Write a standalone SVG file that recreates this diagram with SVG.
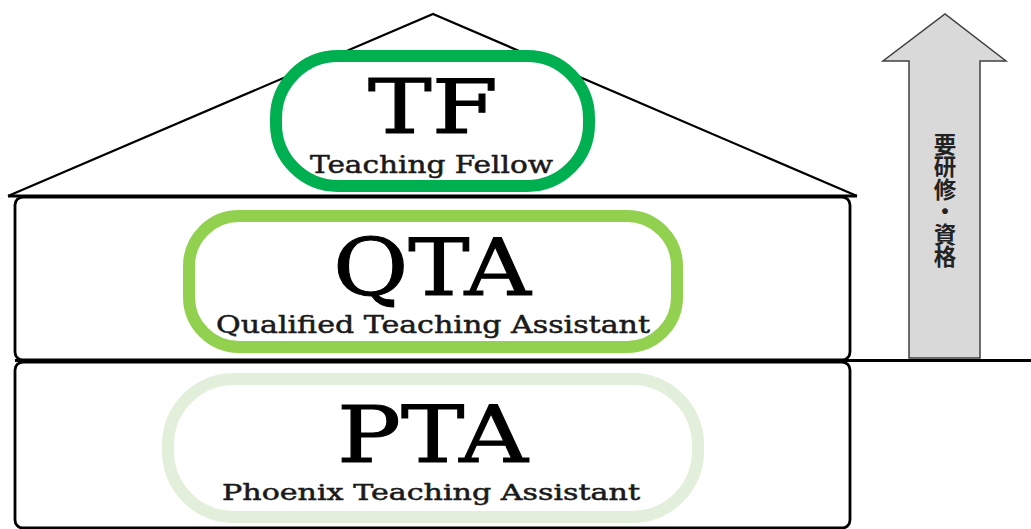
<svg xmlns="http://www.w3.org/2000/svg" width="1031" height="529" viewBox="0 0 1031 529">
<style>
.line{fill:none;stroke:#000;stroke-width:2.8;stroke-linejoin:round}
.roof{fill:none;stroke:#000;stroke-width:2.2;stroke-linejoin:miter}
.pill{fill:#fff;stroke-width:12}
.big{font-family:"DejaVu Serif","Liberation Serif",serif;fill:#000;stroke:#000;stroke-width:1}
.sub{font-family:"DejaVu Serif","Liberation Serif",serif;fill:#1a1a1a;stroke:#1a1a1a;stroke-width:0.5}
.jp{font-family:"Noto Sans CJK JP","Noto Sans CJK SC",sans-serif;font-weight:bold;fill:#222;font-size:22.5px}
</style>
<rect width="1031" height="529" fill="#fff"/>
<g id="house">
  <polyline class="roof" points="8,196 433,14 857,196"/>
  <rect class="line" x="15" y="197" width="835" height="163" rx="8"/>
  <rect class="line" x="15" y="362" width="835" height="166" rx="8"/>
  <line class="line" x1="8" y1="196" x2="857" y2="196"/>
</g>
<g id="connectors">
  <line class="line" x1="15" y1="360.5" x2="1031" y2="360.5"/>
</g>
<g id="arrow">
  <polygon points="909,358 909,61 883,61 945,14 1006,61 980,61 980,358" fill="#d9d9d9" stroke="#404040" stroke-width="1.5"/>
  <text class="jp" x="945" y="133" writing-mode="vertical-rl" text-anchor="start">要研修・資格</text>
</g>
<g id="tf">
  <rect class="pill" x="276" y="56" width="313" height="130" rx="62" stroke="#00b050"/>
  <text class="big" x="368" y="133" font-size="75" textLength="130" lengthAdjust="spacingAndGlyphs">TF</text>
  <text class="sub" x="310" y="173" font-size="24" textLength="243" lengthAdjust="spacingAndGlyphs">Teaching Fellow</text>
</g>
<g id="qta">
  <rect class="pill" x="189" y="216" width="488" height="131" rx="50" stroke="#92d050"/>
  <text class="big" x="333" y="295" font-size="78" textLength="198" lengthAdjust="spacingAndGlyphs">QTA</text>
  <text class="sub" x="216" y="333" font-size="24" textLength="434" lengthAdjust="spacingAndGlyphs">Qualified Teaching Assistant</text>
</g>
<g id="pta">
  <rect class="pill" x="168" y="379" width="530" height="138" rx="66" stroke="#e2efda"/>
  <text class="big" x="337" y="462" font-size="78" textLength="191" lengthAdjust="spacingAndGlyphs">PTA</text>
  <text class="sub" x="222" y="500" font-size="22" textLength="418" lengthAdjust="spacingAndGlyphs">Phoenix Teaching Assistant</text>
</g>
</svg>
